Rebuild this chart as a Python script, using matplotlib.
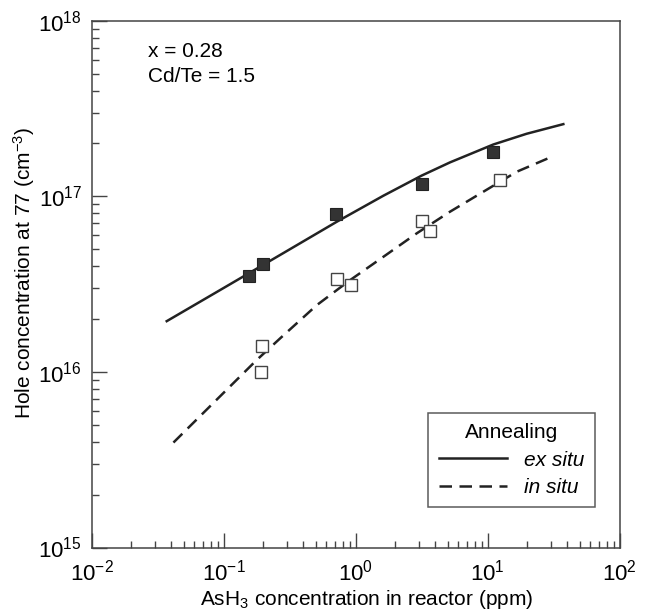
import matplotlib
matplotlib.use("Agg")
import matplotlib.pyplot as plt
from matplotlib.ticker import LogLocator, NullFormatter
import numpy as np

# measured points
exsitu_x = [0.155, 0.200, 0.710, 3.16, 11.0]
exsitu_y = [3.52e16, 4.11e16, 7.95e16, 1.17e17, 1.79e17]
insitu_x = [0.195, 0.190, 0.726, 0.916, 3.16, 3.67, 12.4]
insitu_y = [1.41e16, 9.96e15, 3.39e16, 3.13e16, 7.22e16, 6.31e16, 1.24e17]

# fitted curves
fit_ex_x = [0.0370, 0.0885, 0.1545, 0.283, 0.718, 1.618, 3.16, 5.18, 11.02, 19.7, 37.4]
fit_ex_y = [1.945e16, 2.85e16, 3.64e16, 4.75e16, 7.16e16, 1.007e17, 1.312e17,
            1.560e17, 1.972e17, 2.27e17, 2.576e17]
fit_in_x = [0.0416, 0.0794, 0.1774, 0.2667, 0.507, 0.906, 1.618, 2.897, 5.18,
            9.27, 16.6, 31.4]
fit_in_y = [3.96e15, 6.41e15, 1.167e16, 1.549e16, 2.40e16, 3.33e16, 4.52e16,
            6.15e16, 8.17e16, 1.062e17, 1.380e17, 1.694e17]

plt.rcParams.update({
    "font.family": "Liberation Sans",
    "font.size": 15,
    "mathtext.fontset": "custom",
    "mathtext.rm": "Liberation Sans",
    "mathtext.it": "Liberation Sans:italic",
    "axes.linewidth": 1.1,
})

AX = "#444444"
LN = "#222222"

fig = plt.figure(figsize=(6.45, 6.14), dpi=100)
ax = fig.add_axes([0.1422, 0.1083, 0.8186, 0.858])

ax.plot(fit_ex_x, fit_ex_y, "-", color=LN, linewidth=1.8, label="ex situ", zorder=2)
ax.plot(fit_in_x, fit_in_y, "--", color=LN, linewidth=1.8, dashes=(5, 3),
        label="in situ", zorder=2)

ax.plot(exsitu_x, exsitu_y, "s", markersize=8.5, markerfacecolor="#333333",
        markeredgecolor="#222222", markeredgewidth=0.8, linestyle="none", zorder=3)
ax.plot(insitu_x, insitu_y, "s", markersize=8.5, markerfacecolor="white",
        markeredgecolor="#444444", markeredgewidth=1.0, linestyle="none", zorder=3)

ax.set_xscale("log")
ax.set_yscale("log")
ax.set_xlim(1e-2, 1e2)
ax.set_ylim(1e15, 1e18)

for s in ax.spines.values():
    s.set_color(AX)

ax.xaxis.set_major_locator(LogLocator(base=10, numticks=10))
ax.xaxis.set_minor_locator(LogLocator(base=10, subs=np.arange(2, 10), numticks=20))
ax.yaxis.set_major_locator(LogLocator(base=10, numticks=10))
ax.yaxis.set_minor_locator(LogLocator(base=10, subs=np.arange(2, 10), numticks=20))
ax.xaxis.set_minor_formatter(NullFormatter())
ax.yaxis.set_minor_formatter(NullFormatter())

ax.tick_params(which="both", direction="in", top=False, right=False,
               color=AX, width=1.0, labelsize=16)
ax.tick_params(which="major", length=11)
ax.tick_params(which="minor", length=5)
ax.tick_params(axis="x", which="major", pad=9)
ax.tick_params(axis="y", which="major", pad=7)

ax.set_xlabel("AsH$_3$ concentration in reactor (ppm)", fontsize=15)
ax.xaxis.set_label_coords(0.52, -0.076)
ax.set_ylabel("Hole concentration at 77 (cm$^{-3}$)", fontsize=15)
ax.yaxis.set_label_coords(-0.104, 0.521)

ax.text(0.107, 0.931, "x = 0.28", transform=ax.transAxes, fontsize=15, va="baseline")
ax.text(0.107, 0.884, "Cd/Te = 1.5", transform=ax.transAxes, fontsize=15, va="baseline")

leg = ax.legend(loc="lower right", bbox_to_anchor=(0.953, 0.076), title="Annealing",
                fontsize=15, title_fontsize=15, fancybox=False, frameon=True,
                handlelength=3.3, handletextpad=0.8, borderpad=0.5,
                labelspacing=0.4, borderaxespad=0.0)
leg.get_frame().set_edgecolor("#333333")
leg.get_frame().set_linewidth(1.1)
for t in leg.get_texts():
    t.set_fontstyle("italic")

fig.savefig("out.png", dpi=100)
